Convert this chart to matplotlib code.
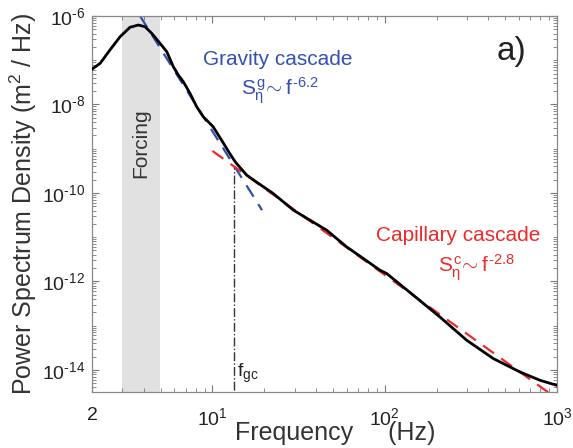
import matplotlib
matplotlib.use('Agg')
import matplotlib.pyplot as plt
import numpy as np
from matplotlib.ticker import FixedLocator, NullFormatter

plt.rcParams['font.family'] = ['Liberation Sans', 'DejaVu Sans']
plt.rcParams['mathtext.fontset'] = 'custom'
plt.rcParams['mathtext.rm'] = 'Liberation Sans'
plt.rcParams['mathtext.it'] = 'Liberation Sans'
plt.rcParams['mathtext.sf'] = 'Liberation Sans'

freq = [2.0, 2.23, 2.54, 2.91, 3.32, 3.71, 4.06, 4.44, 4.96, 5.43, 5.93, 6.34,
        6.78, 7.41, 8.10, 8.85, 10.1, 11.6, 12.6, 13.4, 13.8, 15.8, 18.5, 22.5,
        29.5, 36.8, 46.0, 60.1, 75.1, 93.9, 102.6, 146.5, 209, 299, 427, 610,
        796, 995]
psd = [6.3e-8, 8.5e-8, 1.70e-7, 3.40e-7, 5.55e-7, 6.25e-7, 5.73e-7, 4.06e-7,
       2.41e-7, 1.56e-7, 7.13e-8, 4.62e-8, 3.26e-8, 1.78e-8, 8.87e-9, 5.27e-9,
       3.13e-9, 1.32e-9, 7.8e-10, 5.4e-10, 4.65e-10, 2.53e-10, 1.64e-10,
       9.75e-11, 4.08e-11, 2.43e-11, 1.44e-11, 6.04e-12, 3.30e-12, 1.79e-12,
       1.51e-12, 4.88e-13, 1.57e-13, 4.68e-14, 1.80e-14, 8.96e-15, 5.82e-15,
       4.49e-15]

# power-law fits
grav_f = [3.8, 19.4]
grav_slope = -6.2
grav_amp = 1.0e-6          # value at 3.8 Hz
cap_f = [10.0, 1000.0]
cap_slope = -2.8
cap_amp = 8.9e-10          # value at 10 Hz

forcing = [3.0, 4.95]
f_gc = 13.4
psd_gc = 4.0e-10

fig = plt.figure(figsize=(5.73, 4.48), dpi=100)
ax = fig.add_axes([0.1606, 0.125, 0.8115, 0.8393])

ax.axvspan(forcing[0], forcing[1], color='#e1e1e1', lw=0, zorder=0)

gf = np.array(grav_f)
ax.plot(gf, grav_amp * (gf / grav_f[0]) ** grav_slope, color='#2f4fb0',
        lw=1.6, dashes=(6, 4), zorder=2)
cf = np.array(cap_f)
ax.plot(cf, cap_amp * (cf / cap_f[0]) ** cap_slope, color='#ee2a2a',
        lw=1.6, dashes=(6, 4), zorder=2)

ax.plot(freq, psd, color='black', lw=2.0, zorder=3)

ax.plot([f_gc, f_gc], [1e-16, psd_gc], color='#333333', lw=1.0,
        linestyle='-.', zorder=1)

ax.set_xscale('log')
ax.set_yscale('log')
ax.set_xlim(2, 1000)
ax.set_ylim(10 ** -14.5, 1e-6)

ax.xaxis.set_major_locator(FixedLocator([2, 10, 100, 1000]))
ax.set_xticklabels(['2', r'$10^1$', r'$10^2$', r'$10^3$'])
xminor = [k * 10.0 ** d for d in range(0, 3) for k in range(2, 10)]
xminor = [v for v in xminor if 2 < v < 1000]
ax.xaxis.set_minor_locator(FixedLocator(xminor))
ax.xaxis.set_minor_formatter(NullFormatter())

ymajor = [1e-14, 1e-12, 1e-10, 1e-8, 1e-6]
ax.yaxis.set_major_locator(FixedLocator(ymajor))
ax.set_yticklabels([r'$10^{\text{-14}}$', r'$10^{\text{-12}}$',
                    r'$10^{\text{-10}}$', r'$10^{\text{-8}}$',
                    r'$10^{\text{-6}}$'])
yminor = [k * 10.0 ** d for d in range(-15, -6) for k in range(1, 10)]
yminor = [v for v in yminor if v not in ymajor]
ax.yaxis.set_minor_locator(FixedLocator(yminor))
ax.yaxis.set_minor_formatter(NullFormatter())

ax.tick_params(which='both', direction='in', top=True, right=True,
               colors='#777777', labelcolor='#222222', labelsize=14)
ax.tick_params(which='major', length=5, width=0.8)
ax.tick_params(which='minor', length=3, width=0.6)
ax.tick_params(axis='x', which='major', pad=11)
ax.tick_params(axis='y', which='major', pad=5)
for s in ax.spines.values():
    s.set_color('#888888')
    s.set_linewidth(0.9)

ax.set_ylabel(r'Power Spectrum Density (m$^2$ / Hz)', fontsize=18,
              color='#333333', labelpad=2)
ax.set_xlabel('Frequency     (Hz)', fontsize=18, color='#333333')
ax.xaxis.set_label_coords(0.524, -0.078)

ax.text(0.40, 0.883, 'Gravity cascade', transform=ax.transAxes,
        color='#3550b0', fontsize=15, ha='center', va='center')
ax.text(0.404, 0.80, r'$S^{g}_{\eta}\!\sim f^{\text{-6.2}}$',
        transform=ax.transAxes, color='#3550b0', fontsize=15,
        ha='center', va='center')
ax.text(0.787, 0.415, 'Capillary cascade', transform=ax.transAxes,
        color='#ee2a2a', fontsize=15, ha='center', va='center')
ax.text(0.828, 0.33, r'$S^{c}_{\eta}\!\sim f^{\text{-2.8}}$',
        transform=ax.transAxes, color='#ee2a2a', fontsize=15,
        ha='center', va='center')
ax.text(0.903, 0.905, 'a)', transform=ax.transAxes, color='#222222',
        fontsize=24, ha='center', va='center')
ax.text(np.sqrt(forcing[0] * forcing[1]), 10 ** -8.87, 'Forcing',
        rotation=90, fontsize=15, color='#333333', ha='center', va='center')
ax.text(f_gc * 1.03, 10 ** -14.17, r'f$_{gc}$', fontsize=14,
        color='#222222', ha='left', va='baseline')

fig.savefig('out.png', dpi=100)
